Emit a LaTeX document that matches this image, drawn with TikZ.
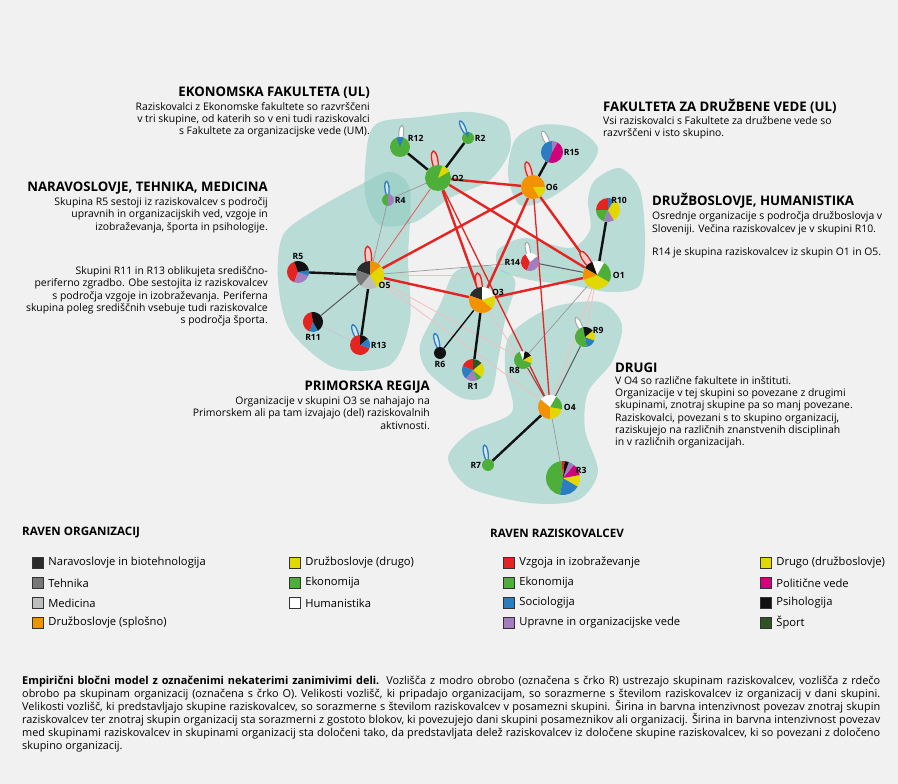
\documentclass[tikz,border=0pt]{standalone}
\usepackage{fontspec}
\setmainfont{Open Sans}
\usetikzlibrary{positioning}
\definecolor{bgc}{HTML}{F1F1F1}
\definecolor{zonec}{HTML}{8ECBC1}
\definecolor{cred}{HTML}{E52421}
\definecolor{cgreen}{HTML}{4DAE3A}
\definecolor{cblue}{HTML}{2A7DC1}
\definecolor{cpurple}{HTML}{A47DC0}
\definecolor{cmagenta}{HTML}{D1007B}
\definecolor{cblack}{HTML}{111111}
\definecolor{cdkgreen}{HTML}{2F5421}
\definecolor{cyellow}{HTML}{E2D800}
\definecolor{corange}{HTML}{F39200}
\definecolor{cnat}{HTML}{2B2B2B}
\definecolor{ctech}{HTML}{777777}
\definecolor{cmed}{HTML}{BDBDBD}
\pgfdeclarelayer{blobs}
\pgfdeclarelayer{links}
\pgfsetlayers{blobs,links,main}
% pie slice: node, radius, start, end, colour
\newcommand{\slice}[5]{\fill[#5] (#1.center) -- ++(#3:#2pt) arc[start angle=#3, end angle=#4, radius=#2pt] -- cycle;}
% self loop: style, node, direction, length
\newcommand{\petal}[4]{\draw[#1] (#2.center) .. controls +({#3+16}:#4pt) and +({#3-16}:#4pt) .. (#2.center);}

\begin{document}
\begin{tikzpicture}[
    x=1pt, y=-1pt,
    zone/.style={fill=zonec, opacity=0.55},
    grp/.style={circle, inner sep=0},
    lbl/.style={font=\bfseries\fontsize{8.6}{9}\selectfont, inner sep=0.5pt},
    head/.style={font=\bfseries\fontsize{13.2}{14}\selectfont, inner sep=0},
    legh/.style={font=\bfseries\fontsize{11.6}{12}\selectfont, inner sep=0},
    body/.style={font=\fontsize{10.4}{12.3}\selectfont, inner sep=0},
    thickred/.style={cred, line width=2.4pt},
    midred/.style={cred, line width=1.3pt},
    thinred/.style={cred!80, line width=0.7pt},
    pinkline/.style={cred!30, line width=0.8pt},
    member/.style={cblack, line width=2.4pt},
    membermid/.style={cblack, line width=1.4pt},
    darkline/.style={black!65, line width=1pt},
    grayline/.style={black!40, line width=0.7pt},
    tie/.style={cpurple!50, line width=0.7pt},
    redloop/.style={draw=cred, fill=cred!25, line width=1.3pt},
    blueloop/.style={draw=cblue, fill=cblue!20, line width=1.3pt},
    whiteloop/.style={draw=black!35, fill=white, line width=1pt},
    key/.style={draw=black!80, line width=0.8pt, minimum size=11.5pt, inner sep=0},
    keytext/.style={font=\fontsize{11.2}{12}\selectfont, inner sep=0, anchor=west}
]

\begin{pgfonlayer}{blobs}
\fill[bgc] (0,0) rectangle (898,784);
% groups of the model
\fill[zone] plot[smooth cycle] coordinates {(368,140) (380,122) (420,117) (470,112) (505,122) (510,150) (490,180) (450,198) (415,222) (380,225) (365,195)};
\fill[zone] plot[smooth cycle] coordinates {(515,140) (540,125) (575,128) (598,148) (585,172) (550,198) (520,205) (508,175)};
\fill[zone] plot[smooth cycle] coordinates {(595,180) (620,168) (640,190) (645,240) (640,285) (610,292) (570,285) (530,280) (500,270) (498,250) (525,238) (570,248) (590,230) (588,200)};
\fill[zone] plot[smooth cycle] coordinates {(283,235) (315,210) (360,185) (390,172) (410,190) (408,260) (410,320) (390,365) (335,368) (290,330) (278,280)};
\fill[zone] plot[smooth cycle] coordinates {(420,345) (440,305) (455,272) (485,265) (515,280) (505,320) (498,360) (490,395) (462,398) (428,372)};
\fill[zone] plot[smooth cycle] coordinates {(510,335) (550,308) (600,302) (622,325) (612,362) (588,392) (585,430) (598,472) (578,500) (530,503) (470,488) (448,458) (470,432) (512,412) (505,370)};
\end{pgfonlayer}

% organisation groups
\node[grp, minimum size=26pt] (O2) at (438,178) {};
\node[grp, minimum size=24pt] (O6) at (533,187) {};
\node[grp, minimum size=28pt] (O1) at (597,275) {};
\node[grp, minimum size=28pt] (O5) at (370,275) {};
\node[grp, minimum size=26pt] (O3) at (482,300) {};
\node[grp, minimum size=24pt] (O4) at (550,407) {};
% researcher groups
\node[grp, minimum size=20pt] (R12) at (400,147) {};
\node[grp, minimum size=12pt] (R2) at (468,138) {};
\node[grp, minimum size=22pt] (R15) at (552,152) {};
\node[grp, minimum size=24pt] (R10) at (608,210) {};
\node[grp, minimum size=18pt] (R14) at (530,262) {};
\node[grp, minimum size=12pt] (R4) at (388,200) {};
\node[grp, minimum size=22pt] (R5) at (298,272) {};
\node[grp, minimum size=20pt] (R11) at (313,322) {};
\node[grp, minimum size=20pt] (R13) at (360,345) {};
\node[grp, minimum size=12pt] (R6) at (440,353) {};
\node[grp, minimum size=22pt] (R1) at (473,370) {};
\node[grp, minimum size=18pt] (R8) at (523,360) {};
\node[grp, minimum size=20pt] (R9) at (585,337) {};
\node[grp, minimum size=12pt] (R7) at (488,465) {};
\node[grp, minimum size=34pt] (R3) at (563,478) {};

\begin{pgfonlayer}{links}
\draw[pinkline] (O5) -- (O1);
\draw[pinkline] (O5) -- (O4);
\draw[pinkline] (O5) -- (R8);
\draw[pinkline] (O1) -- (O4);
\draw[pinkline] (O1) -- (R9);
\draw[pinkline] (O3) -- (O4);
\draw[grayline] (O2) -- (R4);
\draw[grayline] (O5) -- (R4);
\draw[grayline] (O5) -- (R14);
\draw[grayline] (O4) -- (R3);
\draw[grayline] (O1) -- (R8);
\draw[tie] (R11) -- (R13);
\draw[darkline] (O5) -- (R11);
\draw[darkline] (O1) -- (R14);
\draw[darkline] (O4) -- (R9);
\draw[darkline] (O4) -- (R8);
\draw[thinred] (O2) -- (O5);
\draw[midred] (O2) -- (O4);
\draw[midred] (O6) -- (O4);
\draw[thickred] (O2) -- (O6);
\draw[thickred] (O2) -- (O3);
\draw[thickred] (O2) -- (O1);
\draw[thickred] (O6) -- (O5);
\draw[thickred] (O6) -- (O3);
\draw[thickred] (O6) -- (O1);
\draw[thickred] (O5) -- (O3);
\draw[thickred] (O3) -- (O1);
\draw[member] (O2) -- (R12);
\draw[member] (O2) -- (R2);
\draw[member] (O6) -- (R15);
\draw[member] (O1) -- (R10);
\draw[member] (O5) -- (R5);
\draw[member] (O5) -- (R13);
\draw[member] (O3) -- (R1);
\draw[member] (O4) -- (R7);
\draw[membermid] (O3) -- (R6);
% self loops
\petal{redloop}{O2}{100}{38}
\petal{redloop}{O6}{105}{36}
\petal{redloop}{O5}{95}{40}
\petal{redloop}{O3}{100}{38}
\petal{redloop}{O1}{125}{40}
\petal{whiteloop}{R12}{85}{30}
\petal{blueloop}{R2}{115}{26}
\petal{whiteloop}{R15}{115}{32}
\petal{blueloop}{R4}{95}{26}
\petal{blueloop}{R13}{110}{30}
\petal{blueloop}{R6}{105}{28}
\petal{blueloop}{R7}{100}{28}
\petal{whiteloop}{R9}{115}{30}
\petal{whiteloop}{R14}{100}{28}
\end{pgfonlayer}

% pies
\slice{O2}{13}{0}{360}{cgreen}
\slice{O2}{13}{30}{70}{cyellow}
\slice{O6}{12}{0}{360}{corange}
\slice{O6}{12}{-60}{0}{cyellow}
\slice{O1}{14}{200}{330}{cyellow}
\slice{O1}{14}{-30}{60}{cgreen}
\slice{O1}{14}{60}{110}{white}
\slice{O1}{14}{110}{150}{cblack}
\slice{O1}{14}{150}{200}{corange}
\slice{O5}{14}{90}{160}{cnat}
\slice{O5}{14}{160}{230}{ctech}
\slice{O5}{14}{230}{300}{cmed}
\slice{O5}{14}{-60}{40}{cyellow}
\slice{O5}{14}{40}{90}{corange}
\slice{O3}{13}{90}{160}{cnat}
\slice{O3}{13}{160}{320}{corange}
\slice{O3}{13}{-40}{20}{cyellow}
\slice{O3}{13}{20}{90}{white}
\slice{O4}{12}{140}{270}{corange}
\slice{O4}{12}{270}{350}{cyellow}
\slice{O4}{12}{-10}{60}{cgreen}
\slice{O4}{12}{60}{140}{white}
\slice{R12}{10}{0}{360}{cgreen}
\slice{R12}{10}{70}{110}{cblue}
\slice{R2}{6}{0}{360}{cgreen}
\slice{R2}{6}{80}{120}{cblue}
\slice{R15}{11}{90}{250}{cblue}
\slice{R15}{11}{-110}{60}{cmagenta}
\slice{R15}{11}{60}{90}{cpurple}
\slice{R10}{12}{90}{180}{cred}
\slice{R10}{12}{180}{250}{cgreen}
\slice{R10}{12}{250}{300}{cpurple}
\slice{R10}{12}{-60}{60}{cyellow}
\slice{R10}{12}{60}{90}{cblue}
\slice{R14}{9}{120}{250}{cred}
\slice{R14}{9}{-110}{40}{cpurple}
\slice{R14}{9}{40}{120}{white}
\slice{R4}{6}{90}{270}{cgreen}
\slice{R4}{6}{-90}{90}{cpurple}
\slice{R5}{11}{110}{250}{cred}
\slice{R5}{11}{250}{340}{cpurple}
\slice{R5}{11}{-20}{10}{cblue}
\slice{R5}{11}{10}{110}{cblack}
\slice{R11}{10}{100}{250}{cred}
\slice{R11}{10}{250}{300}{cblue}
\slice{R11}{10}{-60}{100}{cblack}
\slice{R13}{10}{90}{340}{cred}
\slice{R13}{10}{-20}{40}{cblue}
\slice{R13}{10}{40}{90}{cblack}
\slice{R6}{6}{0}{360}{cblack}
\slice{R1}{11}{90}{160}{cred}
\slice{R1}{11}{160}{230}{cblue}
\slice{R1}{11}{230}{290}{cpurple}
\slice{R1}{11}{290}{320}{cgreen}
\slice{R1}{11}{-40}{40}{cyellow}
\slice{R1}{11}{40}{90}{cdkgreen}
\slice{R8}{9}{110}{340}{cgreen}
\slice{R8}{9}{-20}{30}{cyellow}
\slice{R8}{9}{30}{80}{cblack}
\slice{R8}{9}{80}{110}{white}
\slice{R9}{10}{100}{280}{cgreen}
\slice{R9}{10}{280}{340}{cblue}
\slice{R9}{10}{-20}{40}{cyellow}
\slice{R9}{10}{40}{100}{cblack}
\slice{R7}{6}{0}{360}{cgreen}
\slice{R3}{17}{95}{260}{cgreen}
\slice{R3}{17}{260}{330}{cblue}
\slice{R3}{17}{-30}{10}{cyellow}
\slice{R3}{17}{10}{50}{cmagenta}
\slice{R3}{17}{50}{70}{cpurple}
\slice{R3}{17}{70}{85}{cblack}
\slice{R3}{17}{85}{95}{cred}

% group labels
\node[lbl, above right=-2pt and 0pt of R12] (R12l) {R12};
\node[lbl, right=0pt of R2] (R2l) {R2};
\node[lbl, right=0pt of O2] (O2l) {O2};
\node[lbl, right=0pt of O6] (O6l) {O6};
\node[lbl, right=0pt of R15] (R15l) {R15};
\node[lbl, above right=-3pt and -6pt of R10] (R10l) {R10};
\node[lbl, left=0pt of R14] (R14l) {R14};
\node[lbl, right=1pt of O1] (O1l) {O1};
\node[lbl, right=0pt of R4] (R4l) {R4};
\node[lbl, above=1pt of R5] (R5l) {R5};
\node[lbl, below right=-3pt and -2pt of O5] (O5l) {O5};
\node[lbl, above right=-6pt and 0pt of O3] (O3l) {O3};
\node[lbl, below=1pt of R11] (R11l) {R11};
\node[lbl, right=0pt of R13] (R13l) {R13};
\node[lbl, below=1pt of R6] (R6l) {R6};
\node[lbl, below=1pt of R1] (R1l) {R1};
\node[lbl, below left=0pt and -4pt of R8] (R8l) {R8};
\node[lbl, above right=-4pt and 0pt of R9] (R9l) {R9};
\node[lbl, right=1pt of O4] (O4l) {O4};
\node[lbl, left=0pt of R7] (R7l) {R7};
\node[lbl, above right=-8pt and 0pt of R3] (R3l) {R3};

% notes
\node[head, anchor=east] (ekoh) at (370,93) {EKONOMSKA FAKULTETA (UL)};
\node[body, align=right, below=3pt of ekoh.south east, anchor=north east] (ekob)
{Raziskovalci z Ekonomske fakultete so razvrščeni\\v tri skupine, od katerih so v eni tudi raziskovalci\\s Fakultete za organizacijske vede (UM).};
\node[head, anchor=west] (fdvh) at (603,106) {FAKULTETA ZA DRUŽBENE VEDE (UL)};
\node[body, align=left, below=3pt of fdvh.south west, anchor=north west] (fdvb)
{Vsi raziskovalci s Fakultete za družbene vede so\\razvrščeni v isto skupino.};
\node[head, anchor=east] (ntmh) at (268,188) {NARAVOSLOVJE, TEHNIKA, MEDICINA};
\node[body, align=right, below=3pt of ntmh.south east, anchor=north east] (ntmb)
{Skupina R5 sestoji iz raziskovalcev s področij\\upravnih in organizacijskih ved, vzgoje in\\izobraževanja, športa in psihologije.\\[32pt]Skupini R11 in R13 oblikujeta središčno-\\periferno zgradbo. Obe sestojita iz raziskovalcev\\s področja vzgoje in izobraževanja. Periferna\\skupina poleg središčnih vsebuje tudi raziskovalce\\s področja športa.};
\node[head, anchor=west] (dhh) at (652,201) {DRUŽBOSLOVJE, HUMANISTIKA};
\node[body, align=left, below=3pt of dhh.south west, anchor=north west] (dhb)
{Osrednje organizacije s področja družboslovja v\\Sloveniji. Večina raziskovalcev je v skupini R10.\\[11pt]R14 je skupina raziskovalcev iz skupin O1 in O5.};
\node[head, anchor=east] (prh) at (430,387) {PRIMORSKA REGIJA};
\node[body, align=right, below=3pt of prh.south east, anchor=north east] (prb)
{Organizacije v skupini O3 se nahajajo na\\Primorskem ali pa tam izvajajo (del) raziskovalnih\\aktivnosti.};
\node[head, anchor=west] (drh) at (615,368) {DRUGI};
\node[body, align=left, below=3pt of drh.south west, anchor=north west] (drb)
{V O4 so različne fakultete in inštituti.\\Organizacije v tej skupini so povezane z drugimi\\skupinami, znotraj skupine pa so manj povezane.\\Raziskovalci, povezani s to skupino organizacij,\\raziskujejo na različnih znanstvenih disciplinah\\in v različnih organizacijah.};

% legend
\node[legh, anchor=west] (orgh) at (22,533) {RAVEN ORGANIZACIJ};
\node[key, fill=cnat] (k1) at (38,563) {};
\node[keytext, right=4pt of k1] (k1t) {Naravoslovje in biotehnologija};
\node[key, fill=ctech] (k2) at (38,583) {};
\node[keytext, right=4pt of k2] (k2t) {Tehnika};
\node[key, fill=cmed] (k3) at (38,603) {};
\node[keytext, right=4pt of k3] (k3t) {Medicina};
\node[key, fill=corange] (k4) at (38,623) {};
\node[keytext, right=4pt of k4] (k4t) {Družboslovje (splošno)};
\node[key, fill=cyellow] (k5) at (295,563) {};
\node[keytext, right=4pt of k5] (k5t) {Družboslovje (drugo)};
\node[key, fill=cgreen] (k6) at (295,583) {};
\node[keytext, right=4pt of k6] (k6t) {Ekonomija};
\node[key, fill=white] (k7) at (295,603) {};
\node[keytext, right=4pt of k7] (k7t) {Humanistika};
\node[legh, anchor=west] (resh) at (490,533) {RAVEN RAZISKOVALCEV};
\node[key, fill=cred] (k8) at (509,563) {};
\node[keytext, right=4pt of k8] (k8t) {Vzgoja in izobraževanje};
\node[key, fill=cgreen] (k9) at (509,583) {};
\node[keytext, right=4pt of k9] (k9t) {Ekonomija};
\node[key, fill=cblue] (k10) at (509,603) {};
\node[keytext, right=4pt of k10] (k10t) {Sociologija};
\node[key, fill=cpurple] (k11) at (509,623) {};
\node[keytext, right=4pt of k11] (k11t) {Upravne in organizacijske vede};
\node[key, fill=cyellow] (k12) at (766,563) {};
\node[keytext, right=4pt of k12] (k12t) {Drugo (družboslovje)};
\node[key, fill=cmagenta] (k13) at (766,583) {};
\node[keytext, right=4pt of k13] (k13t) {Politične vede};
\node[key, fill=cblack] (k14) at (766,603) {};
\node[keytext, right=4pt of k14] (k14t) {Psihologija};
\node[key, fill=cdkgreen] (k15) at (766,623) {};
\node[keytext, right=4pt of k15] (k15t) {Šport};

% caption
\node[anchor=north west, text width=858pt, align=justify, inner sep=0,
      font=\fontsize{10.9}{13}\selectfont] (cap) at (22,676)
{\textbf{Empirični bločni model z označenimi nekaterimi zanimivimi deli.} Vozlišča z modro obrobo (označena s črko R) ustrezajo skupinam raziskovalcev, vozlišča z rdečo obrobo pa skupinam organizacij (označena s črko O). Velikosti vozlišč, ki pripadajo organizacijam, so sorazmerne s številom raziskovalcev iz organizacij v dani skupini. Velikosti vozlišč, ki predstavljajo skupine raziskovalcev, so sorazmerne s številom raziskovalcev v posamezni skupini. Širina in barvna intenzivnost povezav znotraj skupin raziskovalcev ter znotraj skupin organizacij sta sorazmerni z gostoto blokov, ki povezujejo dani skupini posameznikov ali organizacij. Širina in barvna intenzivnost povezav med skupinami raziskovalcev in skupinami organizacij sta določeni tako, da predstavljata delež raziskovalcev iz določene skupine raziskovalcev, ki so povezani z določeno skupino organizacij.};

\end{tikzpicture}
\end{document}
